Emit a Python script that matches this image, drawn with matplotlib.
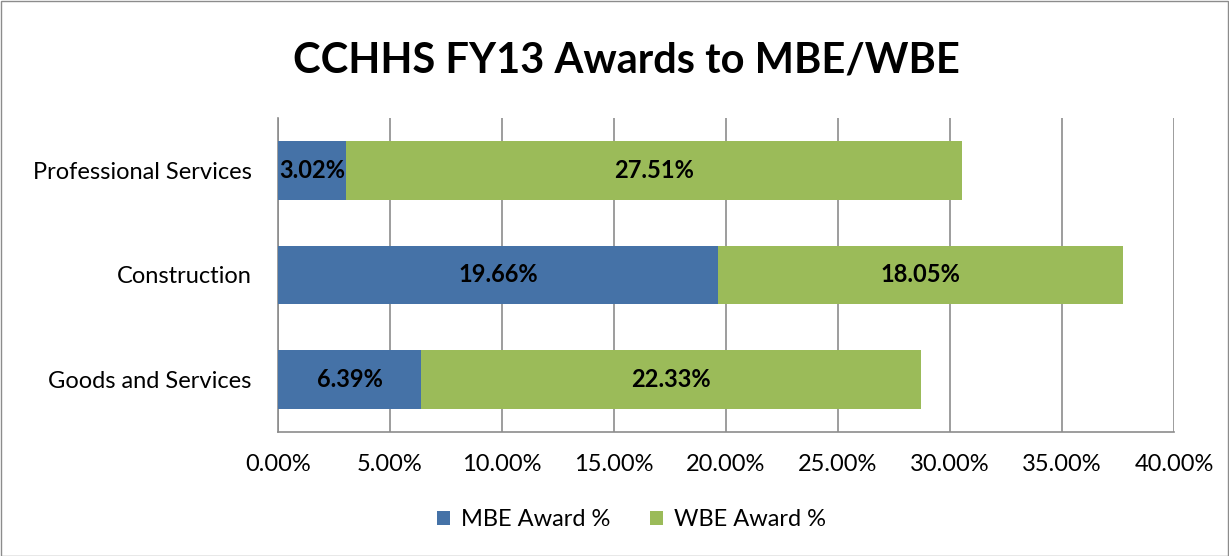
import matplotlib
matplotlib.use("Agg")
import matplotlib.pyplot as plt
from matplotlib.patches import Rectangle
from matplotlib.ticker import FuncFormatter, MultipleLocator

categories = ["Goods and Services", "Construction", "Professional Services"]
mbe = [6.39, 19.66, 3.02]
wbe = [22.33, 18.05, 27.51]
series_names = ["MBE Award %", "WBE Award %"]
title = "CCHHS FY13 Awards to MBE/WBE"

plt.rcParams['font.family'] = ['Lato', 'DejaVu Sans']

fig = plt.figure(figsize=(12.29, 5.56), dpi=100)
fig.patches.append(Rectangle((0.0008, 0.0), 0.998, 0.9985, transform=fig.transFigure,
                             fill=False, edgecolor="#8c8c8c", linewidth=1.0))
ax = fig.add_axes([0.2262, 0.2230, 0.7290, 0.5648])

blue = "#4572A7"
green = "#9BBB59"
y = list(range(len(categories)))
h = 0.56
b1 = ax.barh(y, mbe, height=h, color=blue, label=series_names[0], zorder=3)
b2 = ax.barh(y, wbe, left=mbe, height=h, color=green, label=series_names[1], zorder=3)

for i in range(len(categories)):
    ax.text(mbe[i] / 2, y[i], f"{mbe[i]:.2f}%", ha="center", va="center",
            fontsize=17, fontweight="bold", zorder=4)
    ax.text(mbe[i] + wbe[i] / 2, y[i], f"{wbe[i]:.2f}%", ha="center", va="center",
            fontsize=17, fontweight="bold", zorder=4)

ax.set_xlim(0, 40)
ax.set_ylim(-0.5, 2.5)
ax.xaxis.set_major_locator(MultipleLocator(5))
ax.xaxis.set_major_formatter(FuncFormatter(lambda v, p: f"{v:.2f}%"))
ax.set_yticks(y)
ax.set_yticklabels(categories)
ax.tick_params(axis="x", length=0, labelsize=17, pad=16)
ax.tick_params(axis="y", length=0, labelsize=17, pad=19)
ax.grid(axis="x", color="#8c8c8c", linewidth=1.2, zorder=0)
for s in ["top", "right"]:
    ax.spines[s].set_visible(False)
for s in ["left", "bottom"]:
    ax.spines[s].set_color("#8c8c8c")
    ax.spines[s].set_linewidth(1.2)

fig.text(0.5095, 0.892, title, ha="center", va="center", fontsize=30, fontweight="bold")

fig.legend(handles=[b1, b2], labels=series_names, loc="center", bbox_to_anchor=(0.514, 0.065),
           ncol=2, frameon=False, fontsize=17, handlelength=0.55, handleheight=0.55,
           columnspacing=1.7, handletextpad=0.45)

fig.savefig("out.png", dpi=100)
